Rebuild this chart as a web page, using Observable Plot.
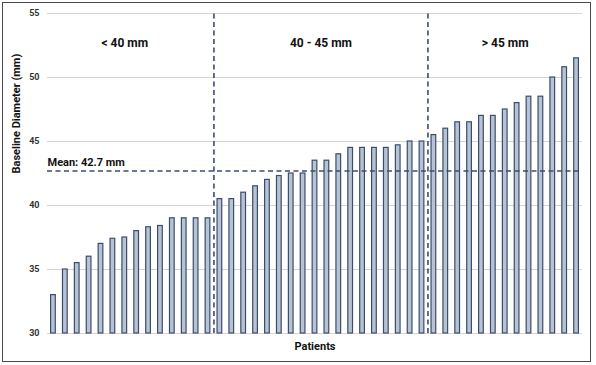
<!DOCTYPE html>
<html>
<head>
<meta charset="utf-8">
<script src="https://cdn.jsdelivr.net/npm/d3@7"></script>
<script src="https://cdn.jsdelivr.net/npm/@observablehq/plot@0.6"></script>
<style>
  html, body { margin: 0; padding: 0; background: #fff; }
  #wrap { position: relative; width: 596px; height: 365px; }
  #frame { position: absolute; left: 2px; top: 2px; width: 587px; height: 358px; border: 1.5px solid #4a4a4a; pointer-events: none; }
  svg { display: block; }
</style>
</head>
<body>
<div id="wrap"><div id="frame"></div></div>
<script>
// Baseline diameters (mm), sorted per patient
const groupLt40 = [33, 35, 35.5, 36, 37, 37.4, 37.5, 38, 38.3, 38.4, 39, 39, 39, 39];
const group40to45 = [40.5, 40.5, 41, 41.5, 42, 42.3, 42.5, 42.5, 43.5, 43.5, 44, 44.5, 44.5, 44.5, 44.5, 44.7, 45, 45];
const groupGt45 = [45.5, 46, 46.5, 46.5, 47, 47, 47.5, 48, 48.5, 48.5, 50, 50.8, 51.5];
const groupLabels = ["< 40 mm", "40 - 45 mm", "> 45 mm"];
const groupLabelX = [6.5, 23, 38.5];
const meanValue = 42.7;
const yTicks = [30, 35, 40, 45, 50, 55];
const yMin = 30, yMax = 55;

const values = [...groupLt40, ...group40to45, ...groupGt45];
const rows = values.map((v, i) => ({i, x1: i, x2: i + 1, v}));
const boundaries = [groupLt40.length, groupLt40.length + group40to45.length];

const navy = "#3b4d6e";
const font = "Roboto, 'Liberation Sans', sans-serif";

const chart = Plot.plot({
  width: 596,
  height: 365,
  marginLeft: 47,
  marginRight: 14,
  marginTop: 13,
  marginBottom: 32,
  style: {fontFamily: font, background: "transparent"},
  x: {domain: [0, values.length], axis: null},
  y: {domain: [yMin, yMax], ticks: yTicks},
  marks: [
    Plot.gridY(yTicks, {stroke: "#d4d4d4", strokeOpacity: 1, strokeWidth: 1}),
    Plot.axisY(yTicks, {tickSize: 0, tickPadding: 8, label: null, fontSize: 9, fontWeight: "bold", fill: "#333"}),
    Plot.rect(rows, {x1: "x1", x2: "x2", y1: yMin, y2: "v", insetLeft: 3.6, insetRight: 3.6, fill: "#b7c3d3", stroke: navy, strokeWidth: 1.2}),
    Plot.ruleX(boundaries, {y1: yMin, y2: yMax, stroke: navy, strokeWidth: 1.6, strokeDasharray: "5,3.5"}),
    Plot.ruleY([meanValue], {stroke: navy, strokeWidth: 1.4, strokeDasharray: "5,3.5"}),
    Plot.text([`Mean: ${meanValue} mm`], {x: 0, y: meanValue, textAnchor: "start", dy: -8, fontSize: 11, fontWeight: "bold", fill: "#111"}),
    Plot.text(groupLabels, {x: (d, k) => groupLabelX[k], y: 52.7, fontSize: 12, fontWeight: "bold", fill: "#111"}),
    Plot.text(["Patients"], {frameAnchor: "bottom", dy: 16, fontSize: 11, fontWeight: "bold", fill: "#111"}),
    Plot.text(["Baseline Diameter (mm)"], {frameAnchor: "left", rotate: -90, dx: -31, fontSize: 11, fontWeight: "bold", fill: "#111"})
  ]
});
document.getElementById("wrap").prepend(chart);
</script>
</body>
</html>
